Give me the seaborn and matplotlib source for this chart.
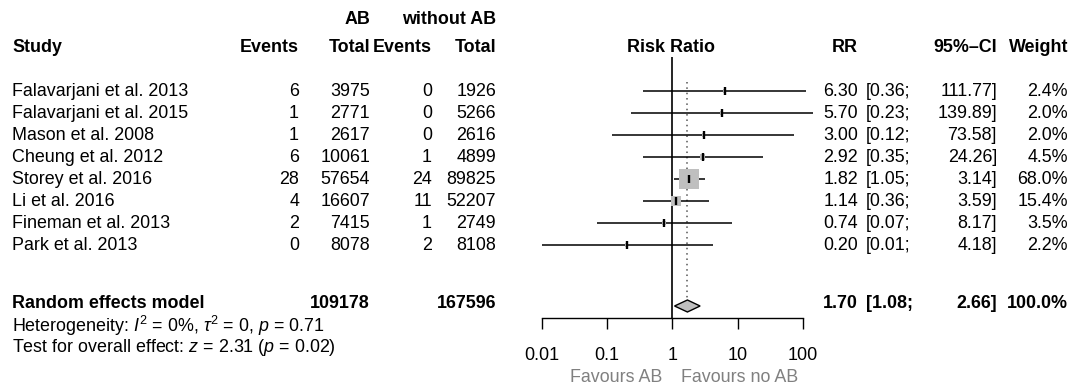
import matplotlib
matplotlib.use("Agg")
import matplotlib.pyplot as plt
import seaborn as sns
import numpy as np
import pandas as pd

# forest plot data
studies = ["Falavarjani et al. 2013", "Falavarjani et al. 2015", "Mason et al. 2008",
           "Cheung et al. 2012", "Storey et al. 2016", "Li et al. 2016",
           "Fineman et al. 2013", "Park et al. 2013"]
ev_ab = [6, 1, 1, 6, 28, 4, 2, 0]
n_ab = [3975, 2771, 2617, 10061, 57654, 16607, 7415, 8078]
ev_no = [0, 0, 0, 1, 24, 11, 1, 2]
n_no = [1926, 5266, 2616, 4899, 89825, 52207, 2749, 8108]
rr = [6.30, 5.70, 3.00, 2.92, 1.82, 1.14, 0.74, 0.20]
ci_lo = [0.36, 0.23, 0.12, 0.35, 1.05, 0.36, 0.07, 0.01]
ci_hi = [111.77, 139.89, 73.58, 24.26, 3.14, 3.59, 8.17, 4.18]
weight = [2.4, 2.0, 2.0, 4.5, 68.0, 15.4, 3.5, 2.2]

pooled_rr, pooled_lo, pooled_hi = 1.70, 1.08, 2.66
ticks = [0.01, 0.1, 1, 10, 100]
tick_labels = ["0.01", "0.1", "1", "10", "100"]

sns.set_style("white")
plt.rcParams["font.family"] = ["Liberation Sans", "DejaVu Sans"]
plt.rcParams["mathtext.fontset"] = "custom"
plt.rcParams["mathtext.rm"] = "Liberation Sans"
plt.rcParams["mathtext.it"] = "Liberation Sans:italic"
plt.rcParams["mathtext.bf"] = "Liberation Sans:bold"
plt.rcParams["text.color"] = "black"

W, H = 1083, 386
fs = 12.9
fig = plt.figure(figsize=(W / 100, H / 100), dpi=100)

# text layer in pixel coordinates
tax = fig.add_axes([0, 0, 1, 1])
tax.set_xlim(0, W)
tax.set_ylim(H, 0)
tax.axis("off")

row0, drow = 91, 22
rows = [row0 + i * drow for i in range(len(studies))]
y_sum = 304

# column right edges
c_ev_ab, c_n_ab, c_ev_no, c_n_no = 299, 370, 432, 496
c_rr, c_ci_l, c_ci_r, c_w = 858, 866, 997, 1068

def t(x, y, s, ha="right", bold=False, **kw):
    tax.text(x, y, s, ha=ha, va="center", fontsize=fs,
             fontweight="bold" if bold else "normal", **kw)

# headers
t(c_n_ab, 20, "AB", bold=True)
t(c_n_no, 20, "without AB", bold=True)
t(12, 47, "Study", ha="left", bold=True)
t(c_ev_ab, 47, "Events", bold=True)
t(c_n_ab, 47, "Total", bold=True)
t(c_ev_no, 47, "Events", bold=True)
t(c_n_no, 47, "Total", bold=True)
t(671, 47, "Risk Ratio", ha="center", bold=True)
t(c_rr, 47, "RR", bold=True)
t(c_ci_r, 47, "95%\u2013CI", bold=True)
t(c_w, 47, "Weight", bold=True)

for i, y in enumerate(rows):
    t(12, y, studies[i], ha="left")
    t(c_ev_ab, y, str(ev_ab[i]))
    t(c_n_ab, y, str(n_ab[i]))
    t(c_ev_no, y, str(ev_no[i]))
    t(c_n_no, y, str(n_no[i]))
    t(c_rr, y, f"{rr[i]:.2f}")
    t(c_ci_l, y, f"[{ci_lo[i]:.2f};", ha="left")
    t(c_ci_r, y, f"{ci_hi[i]:.2f}]")
    t(c_w, y, f"{weight[i]:.1f}%")

t(12, y_sum, "Random effects model", ha="left", bold=True)
t(c_n_ab, y_sum, str(sum(n_ab)), bold=True)
t(c_n_no, y_sum, str(sum(n_no)), bold=True)
t(c_rr, y_sum, f"{pooled_rr:.2f}", bold=True)
t(c_ci_l, y_sum, f"[{pooled_lo:.2f};", ha="left", bold=True)
t(c_ci_r, y_sum, f"{pooled_hi:.2f}]", bold=True)
t(c_w, y_sum, f"{sum(weight):.1f}%", bold=True)
t(12, 326, r"Heterogeneity: $I^2$ = 0%, $\tau^2$ = 0, $p$ = 0.71", ha="left")
t(12, 347, r"Test for overall effect: $z$ = 2.31 ($p$ = 0.02)", ha="left")

# forest panel: x in log RR, y in the same pixel rows
x0, x1, y_top, y_bot = 541.7, 803, 57, 318
fax = fig.add_axes([x0 / W, (H - y_bot) / H, (x1 - x0) / W, (y_bot - y_top) / H])
fax.set_xscale("log")
fax.set_xlim(0.01, 100)
fax.set_ylim(y_bot, y_top)
fax.patch.set_alpha(0)
for side in ["top", "right", "left"]:
    fax.spines[side].set_visible(False)
fax.spines["bottom"].set_color("black")
fax.spines["bottom"].set_linewidth(1)
fax.set_yticks([])
fax.set_xticks(ticks)
fax.set_xticklabels(tick_labels)
fax.minorticks_off()
fax.tick_params(axis="x", direction="out", length=8, width=1, pad=13,
                labelsize=13, bottom=True, color="black", labelcolor="black")

df = pd.DataFrame({"rr": rr, "lo": ci_lo, "hi": ci_hi, "w": weight, "y": rows})
fax.axvline(1, color="black", lw=1.2)
fax.plot([pooled_rr, pooled_rr], [82, 299], color="#555555", lw=1.1, ls=(0, (1, 2.5)))
fax.hlines(df["y"], df["lo"], df["hi"], color="black", lw=1.1, clip_on=False, zorder=2)
sns.scatterplot(data=df, x="rr", y="y", size="w", sizes=(0, 304), size_norm=(0, 100),
                marker="s", color="#bfbfbf", linewidth=0, legend=False, ax=fax,
                clip_on=False, zorder=3)
fax.scatter(df["rr"], df["y"], marker="|", s=30, color="black", linewidths=1.7, zorder=4,
            clip_on=False)
fax.set_xlabel("")
fax.set_ylabel("")

# pooled diamond
lx, cx, hx = np.log10(pooled_lo), np.log10(pooled_rr), np.log10(pooled_hi)
dx = [10 ** lx, 10 ** cx, 10 ** hx, 10 ** cx]
dy = [y_sum + 2, y_sum - 4, y_sum + 2, y_sum + 8]
fax.fill(dx, dy, facecolor="#bfbfbf", edgecolor="black", lw=1, zorder=3, clip_on=False)

tax.text(662, 377, "Favours AB", ha="right", va="center", fontsize=fs, color="#808080")
tax.text(681, 377, "Favours no AB", ha="left", va="center", fontsize=fs, color="#808080")

fig.savefig("out.png", dpi=100)
